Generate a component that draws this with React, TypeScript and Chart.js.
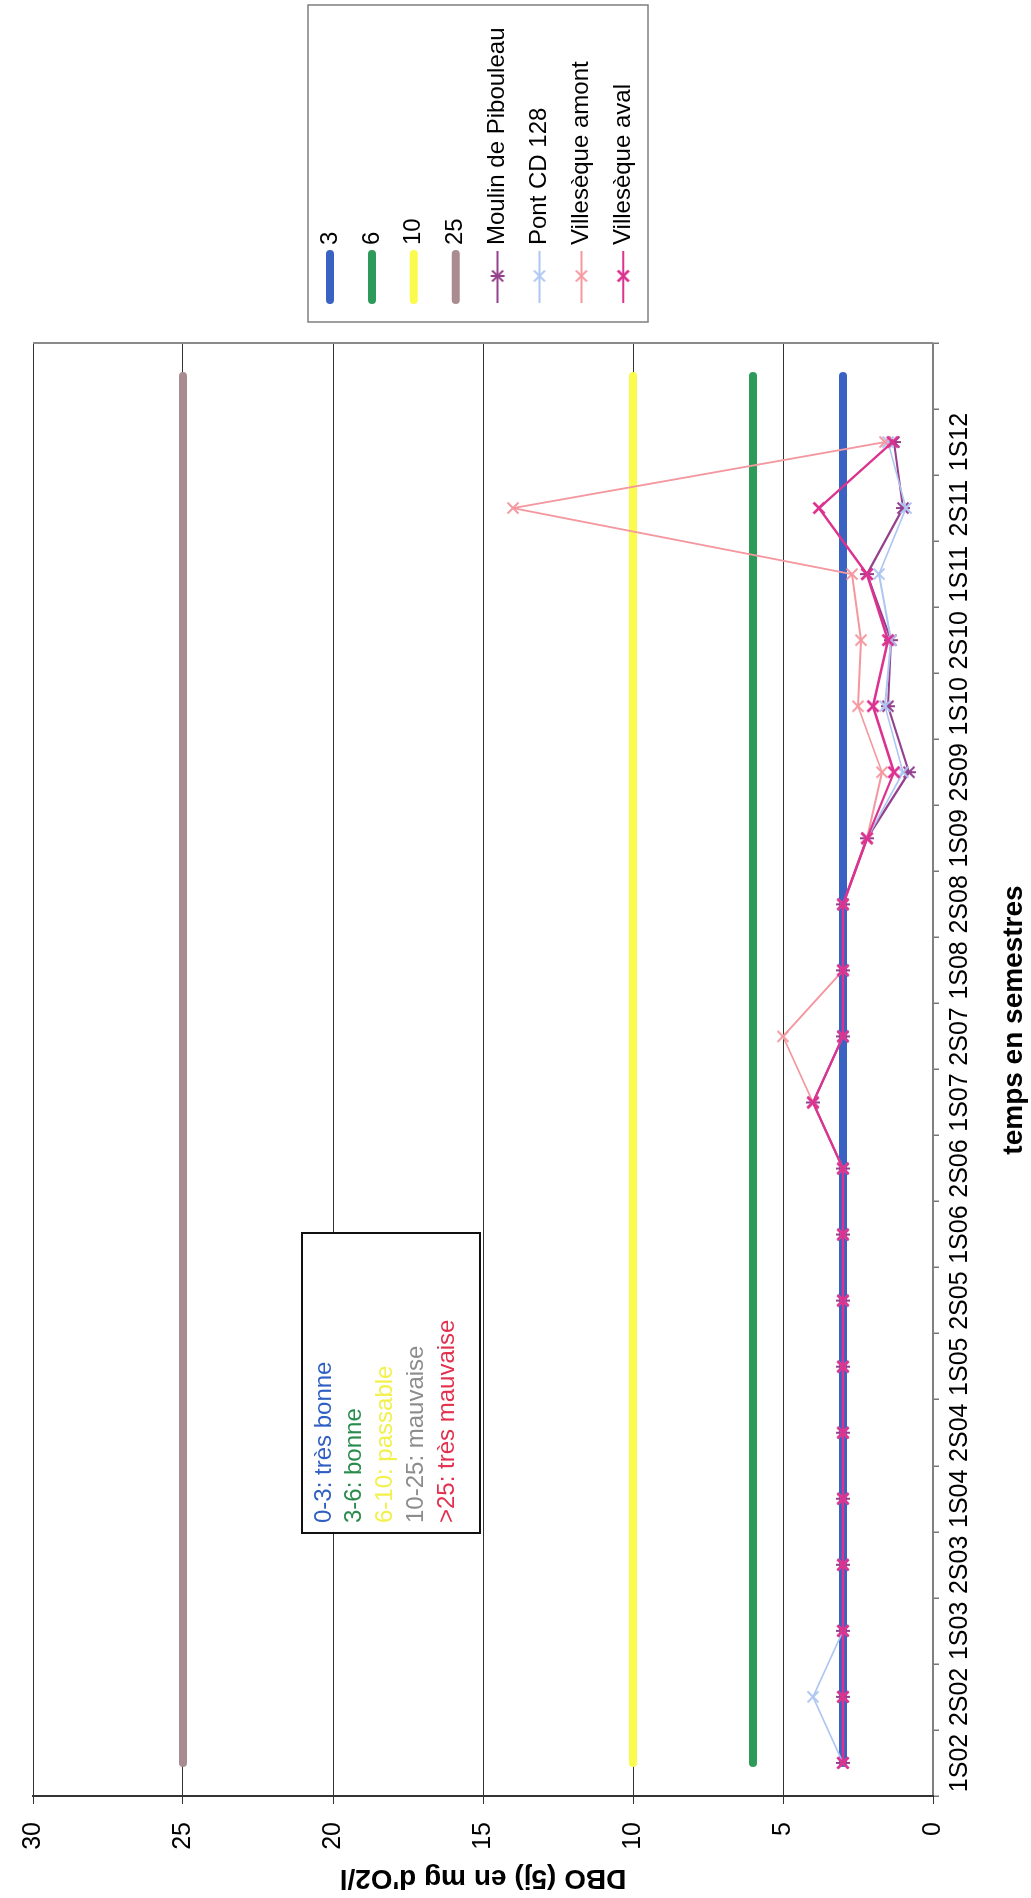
import React, { useEffect, useRef } from 'react';
import { Chart, registerables } from 'chart.js';

Chart.register(...registerables);

const FONT = '"Liberation Sans", Arial, sans-serif';

// Semesters (last slot is an empty category, as in the original sheet)
const categories = ['1S02', '2S02', '1S03', '2S03', '1S04', '2S04', '1S05', '2S05', '1S06', '2S06', '1S07', '2S07', '1S08', '2S08', '1S09', '2S09', '1S10', '2S10', '1S11', '2S11', '1S12', ''];

// Quality thresholds
const seuil3 = [3, 3, 3, 3, 3, 3, 3, 3, 3, 3, 3, 3, 3, 3, 3, 3, 3, 3, 3, 3, 3, 3];
const seuil6 = [6, 6, 6, 6, 6, 6, 6, 6, 6, 6, 6, 6, 6, 6, 6, 6, 6, 6, 6, 6, 6, 6];
const seuil10 = [10, 10, 10, 10, 10, 10, 10, 10, 10, 10, 10, 10, 10, 10, 10, 10, 10, 10, 10, 10, 10, 10];
const seuil25 = [25, 25, 25, 25, 25, 25, 25, 25, 25, 25, 25, 25, 25, 25, 25, 25, 25, 25, 25, 25, 25, 25];

// Stations
const moulin = [3, 3, 3, 3, 3, 3, 3, 3, 3, 3, 4, 3, 3, 3, 2.2, 0.8, 1.5, 1.4, 2.2, 1.0, 1.3, null];
const pont = [3, 4, 3, 3, 3, 3, 3, 3, 3, 3, 4, 3, 3, 3, 2.2, 1.0, 1.6, 1.4, 1.8, 0.9, 1.5, null];
const amont = [3, 3, 3, 3, 3, 3, 3, 3, 3, 3, 4, 5, 3, 3, 2.2, 1.7, 2.5, 2.4, 2.7, 14, 1.6, null];
const aval = [3, 3, 3, 3, 3, 3, 3, 3, 3, 3, 4, 3, 3, 3, 2.2, 1.3, 2.0, 1.5, 2.2, 3.8, 1.35, null];

const yTickStep = 5;
const yMin = 0;
const yMax = 30;

const qualityLabels = ['0-3: très bonne', '3-6: bonne', '6-10: passable', '10-25: mauvaise', '>25: très mauvaise'];
const qualityColors = ['#2f5fc2', '#2a8c4c', '#f2f04a', '#8c8c8c', '#e2304e'];

const C_BLUE = '#3a62c2';
const C_GREEN = '#2e9a5a';
const C_YELLOW = '#fbfb4e';
const C_MAUVE = '#a98c90';
const C_MOULIN = '#94408c';
const C_PONT = '#aec6f2';
const C_AMONT = '#f5979f';
const C_AVAL = '#dc3290';

function makeMarker(color: string, star: boolean, lw: number) {
  const c = document.createElement('canvas');
  c.width = 16;
  c.height = 16;
  const g = c.getContext('2d')!;
  g.strokeStyle = color;
  g.lineWidth = lw;
  g.beginPath();
  g.moveTo(2.5, 2.5);
  g.lineTo(13.5, 13.5);
  g.moveTo(13.5, 2.5);
  g.lineTo(2.5, 13.5);
  if (star) {
    g.moveTo(8, 1);
    g.lineTo(8, 15);
  }
  g.stroke();
  return c;
}

export default function App() {
  const ref = useRef<HTMLCanvasElement | null>(null);

  useEffect(() => {
    if (!ref.current) return;
    Chart.defaults.font.family = FONT;

    const mMoulin = makeMarker(C_MOULIN, true, 2);
    const mPont = makeMarker(C_PONT, false, 1.8);
    const mAmont = makeMarker(C_AMONT, false, 1.8);
    const mAval = makeMarker(C_AVAL, false, 2.6);

    const legendItems = [
      { label: '3', color: C_BLUE, thick: true, marker: null as HTMLCanvasElement | null },
      { label: '6', color: C_GREEN, thick: true, marker: null },
      { label: '10', color: C_YELLOW, thick: true, marker: null },
      { label: '25', color: C_MAUVE, thick: true, marker: null },
      { label: 'Moulin de Pibouleau', color: C_MOULIN, thick: false, marker: mMoulin },
      { label: 'Pont CD 128', color: C_PONT, thick: false, marker: mPont },
      { label: 'Villesèque amont', color: C_AMONT, thick: false, marker: mAmont },
      { label: 'Villesèque aval', color: C_AVAL, thick: false, marker: mAval },
    ];

    const overlay = {
      id: 'overlay',
      afterDraw(chart: any) {
        const ctx = chart.ctx as CanvasRenderingContext2D;
        const a = chart.chartArea;
        ctx.save();
        // plot frame, far side
        ctx.strokeStyle = '#8a8a8a';
        ctx.lineWidth = 2;
        ctx.beginPath();
        ctx.moveTo(a.right, a.top);
        ctx.lineTo(a.right, a.bottom);
        ctx.stroke();

        // quality text box
        ctx.fillStyle = '#ffffff';
        ctx.fillRect(365, 302, 300, 178);
        ctx.strokeStyle = '#111';
        ctx.lineWidth = 2;
        ctx.strokeRect(365, 302, 300, 178);
        ctx.font = '24px ' + FONT;
        ctx.textBaseline = 'middle';
        ctx.textAlign = 'left';
        qualityLabels.forEach((t, i) => {
          ctx.fillStyle = qualityColors[i];
          ctx.fillText(t, 375, 324 + i * 30.8);
        });

        // legend
        ctx.fillStyle = '#ffffff';
        ctx.fillRect(1576, 308, 317, 340);
        ctx.strokeStyle = '#7f7f7f';
        ctx.lineWidth = 1.5;
        ctx.strokeRect(1576, 308, 317, 340);
        legendItems.forEach((it, i) => {
          const y = 330 + i * 41.9;
          ctx.strokeStyle = it.color;
          ctx.beginPath();
          if (it.thick) {
            ctx.lineWidth = 8;
            ctx.lineCap = 'round';
            ctx.moveTo(1598, y);
            ctx.lineTo(1644, y);
          } else {
            ctx.lineWidth = 2;
            ctx.lineCap = 'butt';
            ctx.moveTo(1595, y);
            ctx.lineTo(1647, y);
          }
          ctx.stroke();
          if (it.marker) ctx.drawImage(it.marker, 1622 - 8, y - 8);
          ctx.fillStyle = '#000';
          ctx.font = '24px ' + FONT;
          ctx.textBaseline = 'middle';
          ctx.textAlign = 'left';
          ctx.fillText(it.label, 1653, y);
        });

        // category axis title
        ctx.fillStyle = '#000';
        ctx.font = 'bold 28px ' + FONT;
        ctx.textAlign = 'center';
        ctx.textBaseline = 'middle';
        ctx.fillText('temps en semestres', 878, 1014);
        ctx.restore();
      },
    };

    const thresholdDs = (label: string, data: number[], color: string, order: number) => ({
      label,
      data,
      borderColor: color,
      backgroundColor: color,
      borderWidth: 8,
      borderCapStyle: 'round' as const,
      pointRadius: 0,
      fill: false,
      tension: 0,
      order,
    });
    const stationDs = (label: string, data: (number | null)[], color: string, marker: HTMLCanvasElement, width: number, order: number) => ({
      label,
      data,
      borderColor: color,
      backgroundColor: color,
      borderWidth: width,
      borderJoinStyle: 'round' as const,
      pointStyle: marker,
      pointRadius: 7,
      fill: false,
      tension: 0,
      order,
    });

    const chart = new Chart(ref.current, {
      type: 'line',
      data: {
        labels: categories,
        datasets: [
          thresholdDs('3', seuil3, C_BLUE, 8),
          thresholdDs('6', seuil6, C_GREEN, 7),
          thresholdDs('10', seuil10, C_YELLOW, 6),
          thresholdDs('25', seuil25, C_MAUVE, 5),
          stationDs('Moulin de Pibouleau', moulin, C_MOULIN, mMoulin, 2.2, 4),
          stationDs('Pont CD 128', pont, C_PONT, mPont, 1.8, 3),
          stationDs('Villesèque amont', amont, C_AMONT, mAmont, 1.8, 2),
          stationDs('Villesèque aval', aval, C_AVAL, mAval, 2.4, 1),
        ] as any,
      },
      options: {
        responsive: false,
        animation: false,
        devicePixelRatio: 1,
        layout: { padding: { left: 0, right: 343, top: 21, bottom: 0 } },
        plugins: { legend: { display: false }, tooltip: { enabled: false } },
        scales: {
          x: {
            type: 'category',
            offset: true,
            grid: { offset: true, drawOnChartArea: false, tickLength: 6, color: '#777', lineWidth: 1.5 },
            border: { display: true, color: '#808080', width: 2 },
            ticks: { autoSkip: false, maxRotation: 0, minRotation: 0, padding: 6, color: '#000', font: { size: 25, family: FONT } },
            afterFit: (s: any) => { s.height = 98; },
          },
          y: {
            min: yMin,
            max: yMax,
            ticks: { stepSize: yTickStep, padding: 18, color: '#000', font: { size: 25, family: FONT } },
            grid: { color: '#333', lineWidth: 1, tickLength: 8 },
            border: { color: '#333', width: 2 },
            title: {
              display: true,
              text: "DBO (5j) en mg d'O2/l",
              color: '#000',
              font: { size: 28, weight: 'bold', family: FONT, lineHeight: 1 },
              padding: { top: 6, bottom: 0 },
            },
            afterFit: (s: any) => { s.width = 102; },
          },
        },
      } as any,
      plugins: [overlay],
    });
    return () => chart.destroy();
  }, []);

  return (
    <div style={{ position: 'absolute', left: 0, top: 0, width: 1031, height: 1898, overflow: 'hidden', background: '#fff' }}>
      <div
        style={{
          position: 'absolute',
          left: 0,
          top: 0,
          width: 1898,
          height: 1031,
          transformOrigin: '0 0',
          transform: 'translateY(1898px) rotate(-90deg)',
        }}
      >
        <canvas ref={ref} width={1898} height={1031} style={{ display: 'block', width: 1898, height: 1031 }} />
      </div>
    </div>
  );
}
